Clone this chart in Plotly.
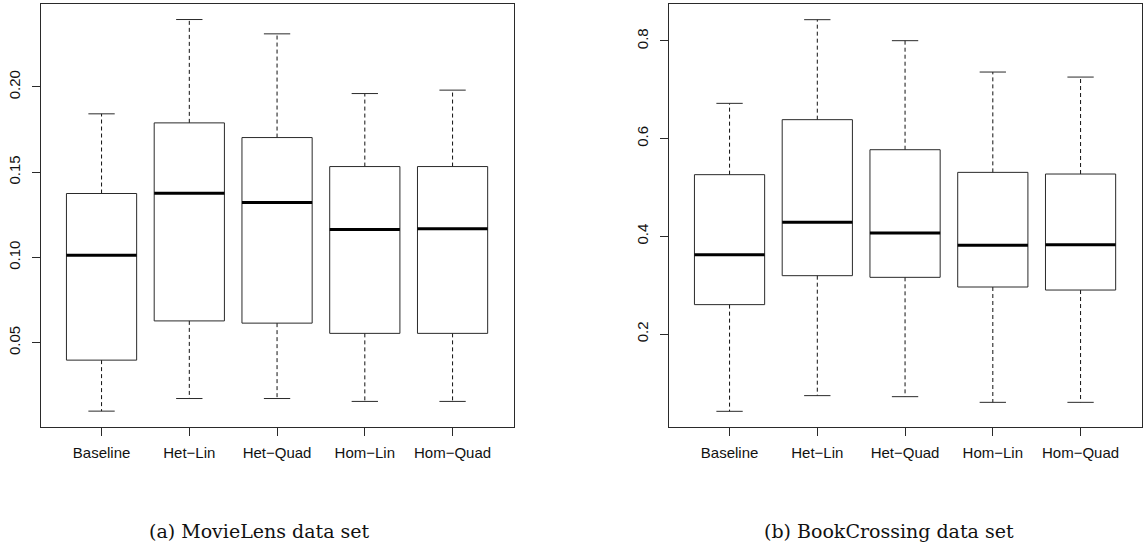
import plotly.graph_objects as go

# ---- data ----
categories = ["Baseline", "Het\u2212Lin", "Het\u2212Quad", "Hom\u2212Lin", "Hom\u2212Quad"]

ml_lower  = [0.0099, 0.0173, 0.0173, 0.0156, 0.0156]
ml_q1     = [0.0398, 0.0628, 0.0615, 0.0555, 0.0555]
ml_median = [0.1013, 0.1377, 0.1322, 0.1164, 0.1168]
ml_q3     = [0.1375, 0.1789, 0.1703, 0.1533, 0.1533]
ml_upper  = [0.1842, 0.2395, 0.2311, 0.1961, 0.1981]

bc_lower  = [0.0418, 0.0739, 0.0718, 0.0602, 0.0602]
bc_q1     = [0.2602, 0.3195, 0.3161, 0.2963, 0.2901]
bc_median = [0.3625, 0.4287, 0.4068, 0.3816, 0.3830]
bc_q3     = [0.5263, 0.6389, 0.5774, 0.5310, 0.5276]
bc_upper  = [0.6723, 0.8436, 0.8006, 0.7364, 0.7261]

ml_ticks = [0.05, 0.10, 0.15, 0.20]
ml_ticktext = ["0.05", "0.10", "0.15", "0.20"]
bc_ticks = [0.2, 0.4, 0.6, 0.8]
bc_ticktext = ["0.2", "0.4", "0.6", "0.8"]

captions = ["(a) MovieLens data set", "(b) BookCrossing data set"]

# ---- styling ----
BOX_HW = 0.4
CAP_HW = 0.15
LINE_C = "#2a2a2a"
TICK_FONT = dict(family="Liberation Sans, Arial, sans-serif", size=15, color="#111")

positions = list(range(1, len(categories) + 1))

fig = go.Figure()


def add_panel(xa, ya, lower, q1, med, q3, upper):
    wx, wy, cx, cy, bx, by, mx, my = [], [], [], [], [], [], [], []
    for p, lo, a, m, b, hi in zip(positions, lower, q1, med, q3, upper):
        wx += [p, p, None, p, p, None]
        wy += [b, hi, None, a, lo, None]
        cx += [p - CAP_HW, p + CAP_HW, None, p - CAP_HW, p + CAP_HW, None]
        cy += [hi, hi, None, lo, lo, None]
        bx += [p - BOX_HW, p + BOX_HW, p + BOX_HW, p - BOX_HW, p - BOX_HW, None]
        by += [a, a, b, b, a, None]
        mx += [p - BOX_HW, p + BOX_HW, None]
        my += [m, m, None]
    common = dict(xaxis=xa, yaxis=ya, mode="lines", showlegend=False, hoverinfo="skip")
    fig.add_trace(go.Scatter(x=wx, y=wy, line=dict(color="#111", width=1, dash="4px,3px"), **common))
    fig.add_trace(go.Scatter(x=cx, y=cy, line=dict(color=LINE_C, width=1), **common))
    fig.add_trace(go.Scatter(x=bx, y=by, line=dict(color=LINE_C, width=1), **common))
    fig.add_trace(go.Scatter(x=mx, y=my, line=dict(color="#000", width=3), **common))


add_panel("x", "y", ml_lower, ml_q1, ml_median, ml_q3, ml_upper)
add_panel("x2", "y2", bc_lower, bc_q1, bc_median, bc_q3, bc_upper)

xcommon = dict(
    range=[0.31, 5.70], tickmode="array", tickvals=positions, ticktext=categories,
    showline=True, mirror=True, linecolor=LINE_C, linewidth=1,
    ticks="outside", ticklen=8, tickcolor=LINE_C, tickwidth=1,
    showgrid=False, zeroline=False, tickfont=TICK_FONT, automargin=False,
    ticklabelstandoff=4,
)
ycommon = dict(
    showline=True, mirror=True, linecolor=LINE_C, linewidth=1,
    ticks="outside", ticklen=8, tickcolor=LINE_C, tickwidth=1,
    showgrid=False, zeroline=False, tickfont=TICK_FONT, automargin=False,
    tickangle=-90, tickmode="array", ticklabelstandoff=6,
)

ydom = [1 - 427 / 547, 1 - 4 / 547]

fig.update_layout(
    width=1143, height=547,
    margin=dict(l=0, r=0, t=0, b=0),
    paper_bgcolor="white", plot_bgcolor="white",
    template="none",
    xaxis=dict(domain=[41 / 1143, 514 / 1143], anchor="y", **xcommon),
    yaxis=dict(domain=ydom, anchor="x", range=[0.0006, 0.2486],
               tickvals=ml_ticks, ticktext=ml_ticktext, **ycommon),
    xaxis2=dict(domain=[669 / 1143, 1142 / 1143], anchor="y2", **xcommon),
    yaxis2=dict(domain=ydom, anchor="x2", range=[0.0097, 0.8757],
                tickvals=bc_ticks, ticktext=bc_ticktext, **ycommon),
)

for cap, xc in zip(captions, [259 / 1143, 889 / 1143]):
    fig.add_annotation(
        text=cap, xref="paper", yref="paper", x=xc, y=1 - 531 / 547,
        xanchor="center", yanchor="middle", showarrow=False,
        font=dict(family="DejaVu Serif, serif", size=19, color="#111"),
    )

fig.write_html("out.html")
